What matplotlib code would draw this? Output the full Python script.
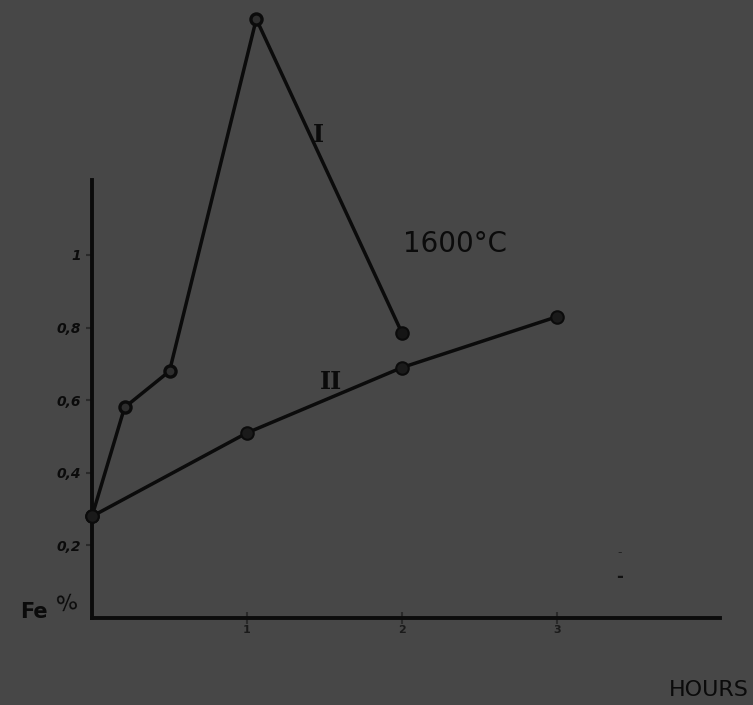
import matplotlib.pyplot as plt

# Fe content vs. time at 1600 °C, two series
hours_I = [0, 0.21, 0.5, 1.06, 2.0]
fe_I = [0.28, 0.58, 0.68, 1.65, 0.785]

hours_II = [0, 1.0, 2.0, 3.0]
fe_II = [0.28, 0.51, 0.69, 0.83]

y_ticks = [0.2, 0.4, 0.6, 0.8, 1.0]
y_labels = ["0,2", "0,4", "0,6", "0,8", "1"]
x_ticks = [1, 2, 3]
x_labels = ["1", "2", "3"]

BG = "#474747"
INK = "#0b0b0b"

W, H = 753, 705
fig = plt.figure(figsize=(W / 100, H / 100), dpi=100, facecolor=BG)

# axes placed so the origin sits where the drawn axes cross
x0, y0, x1 = 92, 618, 720
px_per_hour = 155
px_per_unit = 363
ax = fig.add_axes([x0 / W, (H - y0) / H, (x1 - x0) / W, y0 / H])
ax.set_facecolor(BG)
ax.set_xlim(0, (x1 - x0) / px_per_hour)
ax.set_ylim(0, y0 / px_per_unit)

for s in ["top", "right"]:
    ax.spines[s].set_visible(False)
for s in ["left", "bottom"]:
    ax.spines[s].set_color(INK)
    ax.spines[s].set_linewidth(2.8)
ax.spines["left"].set_bounds(0, (y0 - 180) / px_per_unit)

ax.set_yticks(y_ticks)
ax.set_yticklabels(y_labels, fontsize=10, fontweight="bold", style="italic", color=INK)
ax.set_xticks(x_ticks)
ax.set_xticklabels(x_labels, fontsize=8, fontweight="bold", color="#1a1a1a")
ax.tick_params(axis="y", direction="out", length=4, width=1.5, color="#2a2a2a", pad=4)
ax.tick_params(axis="x", direction="inout", length=8, width=1.5, color="#2a2a2a", pad=1)

# curve I
ax.plot(hours_I, fe_I, color=INK, lw=2.5, zorder=3, clip_on=False)
ax.plot(hours_I[1:4], fe_I[1:4], "o", ms=8, mfc="#2e2e2e", mec=INK, mew=2.4, zorder=4, clip_on=False)
ax.plot([hours_I[0], hours_I[4]], [fe_I[0], fe_I[4]], "o", ms=9, mfc="#151515", mec=INK,
        mew=1.5, zorder=4, clip_on=False)

# curve II
ax.plot(hours_II, fe_II, color=INK, lw=2.5, zorder=3, clip_on=False)
ax.plot(hours_II, fe_II, "o", ms=9, mfc="#1a1a1a", mec=INK, mew=1.5, zorder=4, clip_on=False)

ax.text(1.46, 1.33, "I", fontsize=17, family="DejaVu Serif", fontweight="bold",
        color=INK, ha="center", va="center")
ax.text(1.54, 0.65, "II", fontsize=17, family="DejaVu Serif", fontweight="bold",
        color=INK, ha="center", va="center")
ax.text(2.34, 1.03, "1600°C", fontsize=20, color=INK, ha="center", va="center")

fig.text(20 / W, 1 - 612 / H, "Fe", fontsize=15, fontweight="bold", color=INK,
         ha="left", va="center")
fig.text(67 / W, 1 - 604 / H, "%", fontsize=16, color=INK, ha="center", va="center",
         rotation=10)
fig.text(709 / W, 1 - 690 / H, "HOURS", fontsize=16, color=INK, ha="center", va="center")

# stray pencil marks at the right
fig.text(620 / W, 1 - 553 / H, "-", fontsize=9, color="#222222", ha="center", va="center")
fig.text(620 / W, 1 - 577 / H, "-", fontsize=12, fontweight="bold", color="#111111",
         ha="center", va="center")

fig.savefig("out.png", dpi=100, facecolor=BG)
